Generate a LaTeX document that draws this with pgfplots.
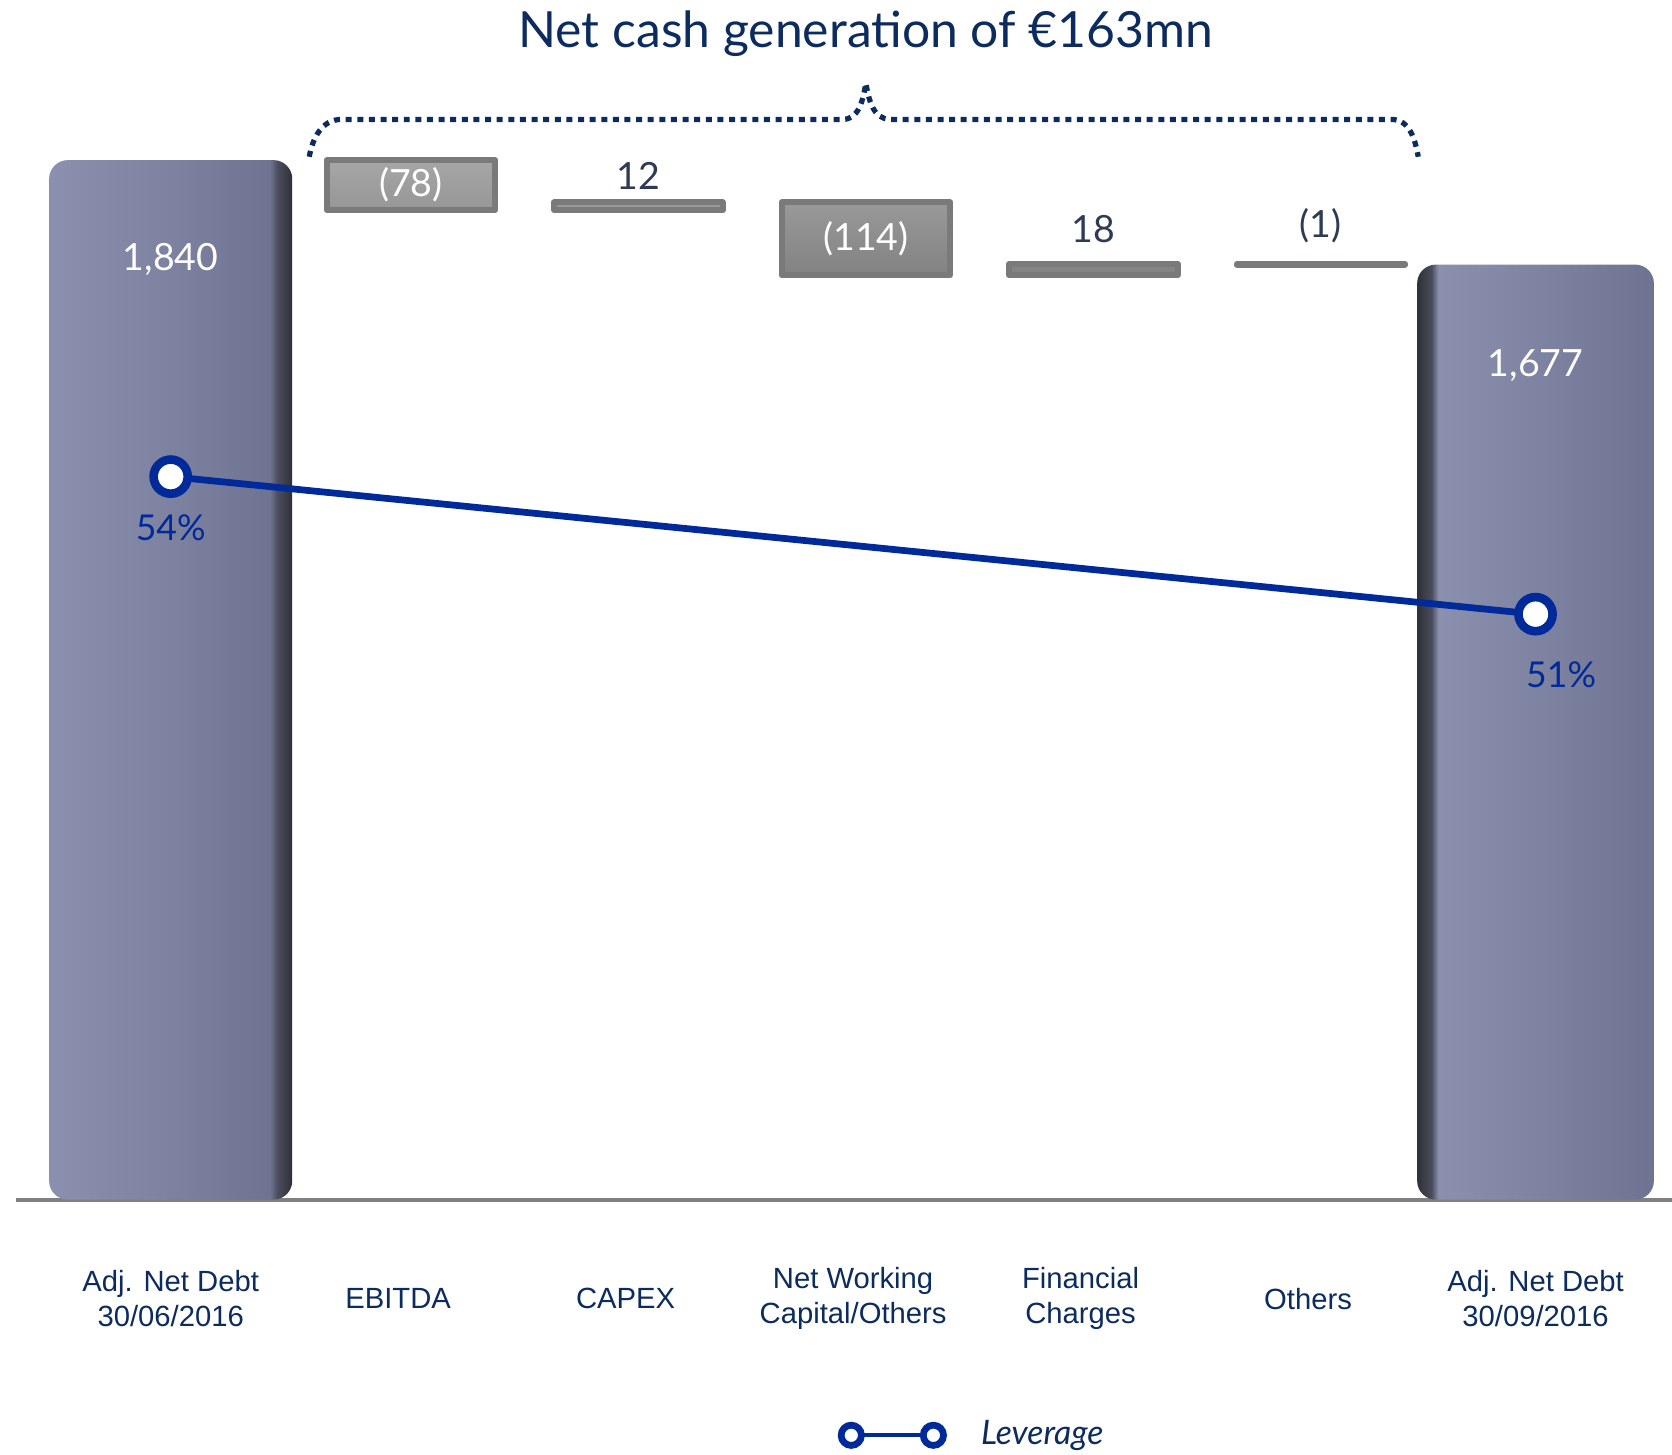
\documentclass[border=0pt]{standalone}
\usepackage{fontspec}
\setmainfont{Lato}
\newfontfamily\catfont{Liberation Sans}
\usepackage{pgfplots}
\pgfplotsset{compat=1.18}

\definecolor{navy}{HTML}{0C2B5E}
\definecolor{levblue}{HTML}{00299A}
\definecolor{darklab}{HTML}{2F3A55}
\definecolor{barA}{HTML}{8A90AE}
\definecolor{barB}{HTML}{7D82A0}
\definecolor{barC}{HTML}{6E7391}
\definecolor{barSide}{HTML}{4A4C5C}
\definecolor{barSide2}{HTML}{2E3037}
\definecolor{fgTop}{HTML}{A6A6A6}
\definecolor{fgBot}{HTML}{828282}
\definecolor{fgEdge}{HTML}{7A7A7A}

% main bars: light face, dark side face (left bar: side on the right)
\pgfdeclarehorizontalshading{barleft}{100bp}{color(0bp)=(barA); color(25bp)=(barA);
  color(50bp)=(barB); color(70.5bp)=(barC); color(72bp)=(barSide); color(75bp)=(barSide2); color(100bp)=(barSide2)}
\pgfdeclarehorizontalshading{barright}{100bp}{color(0bp)=(barSide2); color(25bp)=(barSide2);
  color(28bp)=(barSide); color(29.5bp)=(barA); color(52bp)=(barB); color(75bp)=(barC); color(100bp)=(barC)}

\pgfplotsset{
  base/.style={
    at={(0,0)}, anchor=south west,
    scale only axis,
    width=15.53cm, height=10.65cm,
    xmin=-0.68, xmax=6.6,
  },
}

\begin{document}
\begin{tikzpicture}
\useasboundingbox (-0.15,-2.39) rectangle (15.53,11.25);

% floating bars of the bridge
\begin{axis}[base, hide axis,
    ymin=218, ymax=1990,
    ybar stacked, bar width=1.58cm, bar shift=0.12cm,
]
\addplot[draw=none, fill=none] coordinates {(1,1762) (2,1762) (3,1660) (4,1660) (5,1677)};
\addplot[top color=fgTop, bottom color=fgBot, draw=fgEdge, line width=1.6pt,
         line join=round] coordinates {(1,78) (2,12) (3,114) (4,18) (5,1)};
\end{axis}

% start / end totals
\begin{axis}[base,
    ymin=218, ymax=1990,
    axis x line*=bottom, axis y line=none,
    x axis line style={draw=gray, line width=1pt},
    xtick={0,...,6}, major tick length=0pt,
    xticklabels={{Adj. Net Debt\\30/06/2016}, EBITDA, CAPEX, {Net Working\\Capital/Others},
                 {Financial\\Charges}, Others, {Adj. Net Debt\\30/09/2016}},
    xticklabel style={align=center, anchor=center, yshift=-0.93cm, text=navy,
                      font=\catfont\fontsize{7.8}{9.4}\selectfont},
    ytick=\empty,
]
\addplot[ybar, bar width=2.28cm, bar shift=0pt, draw=none, shade, shading=barleft,
         rounded corners=5pt] coordinates {(0,1840)};
\addplot[ybar, bar width=2.22cm, bar shift=0pt, draw=none, shade, shading=barright,
         rounded corners=5pt] coordinates {(6,1677)};

% value labels
\addplot[draw=none, nodes near coords, point meta=explicit symbolic,
         every node near coord/.append style={anchor=center, text=white,
           font=\fontsize{10}{12}\selectfont}]
  coordinates {(0,1685)[1,840] (6,1519)[1,677]};
\addplot[draw=none, nodes near coords, point meta=explicit symbolic,
         every node near coord/.append style={anchor=center, text=white, xshift=0.12cm,
           font=\fontsize{10}{12}\selectfont}]
  coordinates {(1,1801)[(78)] (3,1717)[(114)]};
\addplot[draw=none, nodes near coords, point meta=explicit symbolic,
         every node near coord/.append style={anchor=center, text=darklab, xshift=0.12cm,
           font=\fontsize{10}{12}\selectfont}]
  coordinates {(2,1815)[12] (4,1732)[18] (5,1737)[(1)]};
\end{axis}

% leverage
\begin{axis}[base, hide axis,
    ymin=38.23, ymax=63.0,
    legend style={at={(0.489,-0.2075)}, anchor=west, draw=none, fill=none,
                  font=\fontsize{9}{11}\selectfont\itshape, text=navy},
    legend image code/.code={
      \draw[levblue, line width=1pt] (0cm,0cm) -- (0.77cm,0cm);
      \draw[levblue, line width=1.8pt, fill=white] (0cm,0cm) circle (0.095cm) (0.77cm,0cm) circle (0.095cm);
    },
]
\addplot[levblue, line width=1.8pt, mark=*, mark size=0.16cm,
         mark options={fill=white, draw=levblue, line width=2.3pt},
         nodes near coords, point meta=explicit symbolic,
         visualization depends on={x \as \xx},
         every node near coord/.append style={anchor=center, text=levblue,
           font=\fontsize{9.5}{11}\selectfont,
           xshift={\xx*0.04cm}, yshift={-0.48cm-\xx*0.015cm}}]
  coordinates {(0,54)[54\%] (6,51)[51\%]};
\addlegendentry{\hspace*{0.25cm}Leverage}
\end{axis}

% bracket and headline
\draw[navy, line width=1.4pt, dash pattern=on 1.6pt off 1.5pt]
  (2.75,9.78) to[out=80,in=180] (3.05,10.13) -- (7.75,10.13)
  to[out=0,in=-100] (7.97,10.47) to[out=-80,in=180] (8.2,10.13) -- (12.9,10.13)
  to[out=0,in=100] (13.15,9.78);
\node[text=navy, font=\fontsize{13.3}{16}\selectfont] at (7.97,10.93) {Net cash generation of €163mn};
\end{tikzpicture}
\end{document}
